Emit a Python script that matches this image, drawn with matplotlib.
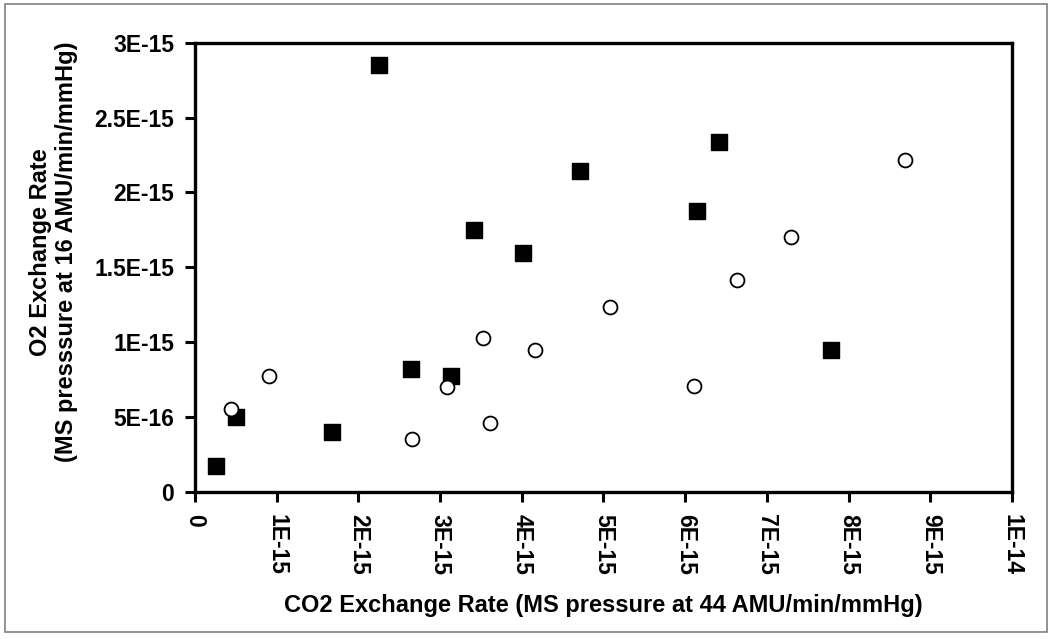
import matplotlib

matplotlib.use("Agg")
import matplotlib.pyplot as plt
from matplotlib.patches import Rectangle

# filled squares
sq_x = [0.26e-15, 0.50e-15, 1.68e-15, 2.25e-15, 2.64e-15, 3.13e-15,
        3.42e-15, 4.01e-15, 4.71e-15, 6.15e-15, 6.41e-15, 7.79e-15]
sq_y = [0.172e-15, 0.497e-15, 0.396e-15, 2.853e-15, 0.82e-15, 0.775e-15,
        1.746e-15, 1.597e-15, 2.14e-15, 1.873e-15, 2.334e-15, 0.947e-15]

# open circles
ci_x = [0.44e-15, 0.91e-15, 2.66e-15, 3.09e-15, 3.52e-15, 3.61e-15,
        4.16e-15, 5.08e-15, 6.11e-15, 6.63e-15, 7.30e-15, 8.69e-15]
ci_y = [0.555e-15, 0.775e-15, 0.350e-15, 0.70e-15, 1.03e-15, 0.457e-15,
        0.947e-15, 1.236e-15, 0.706e-15, 1.414e-15, 1.703e-15, 2.214e-15]

x_ticks = [i * 1e-15 for i in range(11)]
x_labels = ["0", "1E-15", "2E-15", "3E-15", "4E-15", "5E-15",
            "6E-15", "7E-15", "8E-15", "9E-15", "1E-14"]
y_ticks = [i * 5e-16 for i in range(7)]
y_labels = ["0", "5E-16", "1E-15", "1.5E-15", "2E-15", "2.5E-15", "3E-15"]

plt.rcParams["font.family"] = ["Liberation Sans", "DejaVu Sans"]
plt.rcParams["font.weight"] = "bold"

fig = plt.figure(figsize=(10.5, 6.39), dpi=100)
ax = fig.add_axes([0.1857, 0.2305, 0.7781, 0.7027])

ax.scatter(sq_x, sq_y, marker="s", s=11.3 ** 2, color="black", zorder=3)
ax.scatter(ci_x, ci_y, marker="o", s=10.0 ** 2, facecolor="white",
           edgecolor="black", linewidth=1.3, zorder=3)

ax.set_xlim(0, 1e-14)
ax.set_ylim(0, 3e-15)
ax.set_xticks(x_ticks)
ax.set_xticklabels(x_labels, rotation=270, fontsize=16.5, fontweight="bold")
ax.set_yticks(y_ticks)
ax.set_yticklabels(y_labels, fontsize=16.5, fontweight="bold")
ax.tick_params(direction="out", length=7, width=2.2)
ax.tick_params(axis="x", pad=9)
ax.tick_params(axis="y", pad=8)
for sp in ax.spines.values():
    sp.set_linewidth(2.4)

ax.set_xlabel("CO2 Exchange Rate (MS pressure at 44 AMU/min/mmHg)",
              fontsize=17, fontweight="bold", labelpad=14)
ax.set_ylabel("O2 Exchange Rate\n(MS presssure at 16 AMU/min/mmHg)",
              fontsize=17, fontweight="bold", linespacing=1.15)
ax.yaxis.set_label_coords(-0.143, 0.534)

fig.patches.append(Rectangle((0.005, 0.011), 0.992, 0.983, transform=fig.transFigure,
                             fill=False, edgecolor="#808080", linewidth=1.2))

fig.savefig("out.png", dpi=100)
